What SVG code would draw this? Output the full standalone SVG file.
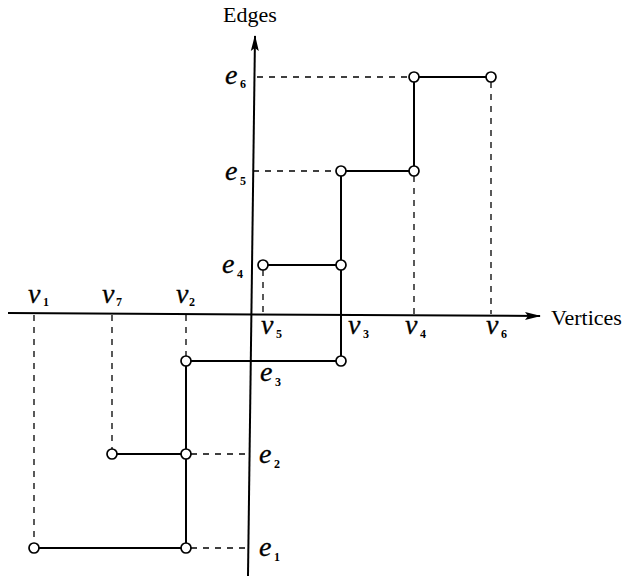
<svg xmlns="http://www.w3.org/2000/svg" width="628" height="576" viewBox="0 0 628 576">
<style>
.ax{stroke:#000;stroke-width:2;fill:none}
.st{stroke:#000;stroke-width:2;fill:none}
.ds{stroke:#000;stroke-width:1.3;fill:none;stroke-dasharray:6 6}
.nd{fill:#fff;stroke:#000;stroke-width:1.7}
.lb{font-family:"Liberation Serif",serif;font-style:italic;font-size:28px;fill:#000;stroke:#000;stroke-width:0.3}
.sb{font-family:"Liberation Serif",serif;font-weight:bold;font-size:12px;fill:#000}
.tt{font-family:"Liberation Serif",serif;font-size:22px;fill:#000}
</style>
<defs>
<marker id="ar2" viewBox="0 0 16 10" refX="15" refY="5" markerWidth="16" markerHeight="10" markerUnits="userSpaceOnUse" orient="auto">
<path d="M0,1 L16,5 L0,9 L3,5 Z" fill="#000"/>
</marker>
</defs>
<g id="axes">
<line class="ax" x1="8" y1="313" x2="540" y2="316" marker-end="url(#ar2)"/>
<line class="ax" x1="248" y1="576" x2="255" y2="36" marker-end="url(#ar2)"/>
<text class="tt" x="551" y="325">Vertices</text>
<text class="tt" x="223" y="22">Edges</text>
</g>
<g id="connectors">
<path class="st" d="M414,77 H491 M414,77 V171 M341,171 H414 M341,171 V361 M263,265 H341 M186,361 H341 M186,361 V548 M112,454 H186 M34,548 H186"/>
<path class="ds" d="M257,77 H409 M253,171 H336 M491,82 V314 M414,176 V314 M263,270 V314 M186,315 V356 M112,315 V449 M34,315 V543 M191,454 H247 M191,548 H247"/>
</g>
<g id="n-e6-v4"><circle class="nd" cx="414" cy="77" r="5"/></g>
<g id="n-e6-v6"><circle class="nd" cx="491" cy="77" r="5"/></g>
<g id="n-e5-v3"><circle class="nd" cx="341" cy="171" r="5"/></g>
<g id="n-e5-v4"><circle class="nd" cx="414" cy="171" r="5"/></g>
<g id="n-e4-v5"><circle class="nd" cx="263" cy="265" r="5"/></g>
<g id="n-e4-v3"><circle class="nd" cx="341" cy="265" r="5"/></g>
<g id="n-e3-v2"><circle class="nd" cx="186" cy="361" r="5"/></g>
<g id="n-e3-v3"><circle class="nd" cx="341" cy="361" r="5"/></g>
<g id="n-e2-v7"><circle class="nd" cx="112" cy="454" r="5"/></g>
<g id="n-e2-v2"><circle class="nd" cx="186" cy="454" r="5"/></g>
<g id="n-e1-v1"><circle class="nd" cx="34" cy="548" r="5"/></g>
<g id="n-e1-v2"><circle class="nd" cx="186" cy="548" r="5"/></g>
<g id="labels-v">
<text class="lb" x="28" y="303">v</text><text class="sb" x="43" y="306">1</text>
<text class="lb" x="102" y="303">v</text><text class="sb" x="116" y="306">7</text>
<text class="lb" x="176" y="303">v</text><text class="sb" x="189" y="306">2</text>
<text class="lb" x="261" y="334">v</text><text class="sb" x="276" y="338">5</text>
<text class="lb" x="348" y="334">v</text><text class="sb" x="363" y="338">3</text>
<text class="lb" x="405" y="334">v</text><text class="sb" x="420" y="338">4</text>
<text class="lb" x="486" y="334">v</text><text class="sb" x="501" y="338">6</text>
</g>
<g id="labels-e">
<text class="lb" x="225" y="84">e</text><text class="sb" x="240" y="88">6</text>
<text class="lb" x="225" y="180">e</text><text class="sb" x="240" y="185">5</text>
<text class="lb" x="222" y="273">e</text><text class="sb" x="237" y="278">4</text>
<text class="lb" x="260" y="381">e</text><text class="sb" x="275" y="386">3</text>
<text class="lb" x="259" y="463">e</text><text class="sb" x="274" y="468">2</text>
<text class="lb" x="259" y="556">e</text><text class="sb" x="274" y="561">1</text>
</g>
</svg>
